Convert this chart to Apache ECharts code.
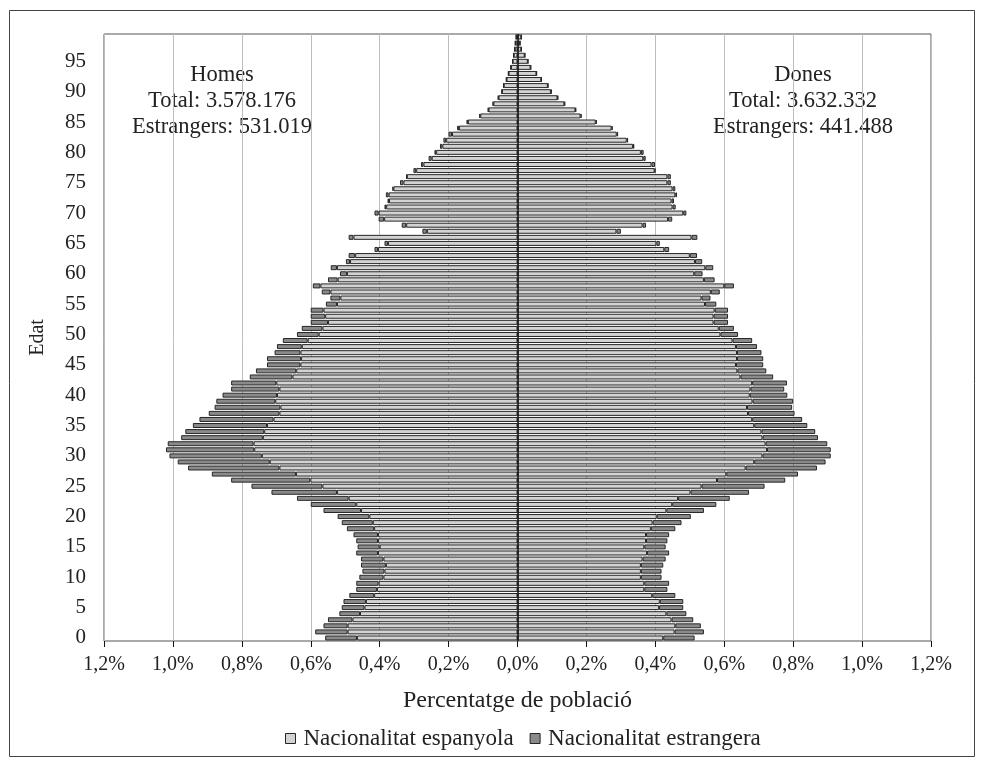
<html>
<head>
    <meta charset="utf-8">
    <script src="https://cdn.jsdelivr.net/npm/echarts@6/dist/echarts.min.js"></script>
    <style>
        body { margin: 0; background: #fff; }
        #chart { width: 984px; height: 765px; }
    </style>
</head>
<body>
    <div id="chart"></div>
    <script>
        // ages 0..99 (bottom to top)
        var ages = [];
        for (var a = 0; a < 100; a++) ages.push(String(a));

        // % of population, index = age
        var homesEspanyola = [
            .466, .493, .493, .479, .457, .444, .440, .416, .408, .403,
            .389, .386, .382, .389, .405, .400, .405, .405, .416, .420,
            .430, .454, .468, .490, .524, .566, .601, .643, .691, .719,
            .742, .764, .766, .739, .735, .727, .708, .691, .688, .703,
            .698, .691, .700, .653, .642, .630, .628, .630, .626, .609,
            .577, .566, .550, .558, .563, .524, .514, .543, .572, .522,
            .495, .524, .486, .471, .405, .376, .476, .263, .323, .387,
            .403, .381, .373, .374, .360, .331, .321, .294, .273, .249,
            .236, .218, .207, .190, .170, .144, .108, .084, .070, .055,
            .045, .040, .032, .026, .019, .014, .011, .008, .006, .004
        ];
        var homesEstrangera = [
            .092, .094, .070, .071, .060, .066, .065, .072, .060, .065,
            .070, .064, .072, .065, .063, .064, .063, .071, .079, .090,
            .092, .109, .132, .150, .190, .206, .230, .244, .265, .267,
            .268, .256, .249, .237, .229, .215, .215, .205, .191, .171,
            .158, .140, .131, .124, .117, .097, .099, .075, .072, .072,
            .063, .060, .050, .042, .037, .032, .029, .025, .022, .028,
            .020, .018, .012, .019, .010, .010, .014, .013, .013, .016,
            .012, .005, .004, .008, .003, .010, .002, .008, .007, .009,
            .005, .007, .008, .010, .005, .004, .003, .002, .002, .002,
            .001, .001, .001, .001, .001, .001, .001, .001, .001, .000
        ];
        var donesEspanyola = [
            .423, .456, .458, .447, .432, .411, .413, .391, .368, .368,
            .358, .358, .358, .363, .376, .368, .373, .373, .387, .392,
            .404, .432, .449, .466, .502, .534, .579, .606, .662, .687,
            .711, .724, .720, .711, .708, .687, .681, .669, .666, .682,
            .674, .676, .681, .647, .638, .634, .637, .637, .634, .624,
            .589, .584, .569, .569, .572, .544, .534, .561, .600, .541,
            .513, .545, .515, .500, .426, .403, .505, .287, .363, .437,
            .481, .450, .447, .458, .450, .435, .435, .398, .389, .365,
            .358, .335, .317, .288, .273, .227, .183, .168, .136, .116,
            .097, .088, .069, .055, .038, .030, .021, .011, .007, .011
        ];
        var donesEstrangera = [
            .091, .085, .074, .063, .058, .070, .068, .067, .067, .072,
            .060, .060, .065, .067, .064, .062, .062, .067, .071, .084,
            .099, .109, .128, .150, .170, .183, .198, .208, .207, .207,
            .198, .185, .179, .161, .156, .154, .145, .135, .131, .118,
            .109, .098, .101, .095, .084, .079, .076, .071, .061, .057,
            .051, .044, .042, .042, .039, .033, .026, .026, .028, .031,
            .024, .023, .021, .021, .014, .010, .017, .013, .010, .012,
            .009, .009, .007, .005, .008, .010, .010, .002, .010, .007,
            .008, .004, .004, .004, .003, .003, .003, .002, .002, .002,
            .002, .001, .001, .001, .001, .001, .001, .001, .001, .001
        ];

        var serif = '"Liberation Serif", "DejaVu Serif", serif';
        var lightGrey = '#d3d3d3';
        var darkGrey = '#8a8a8a';
        var edge = '#262626';

        function neg(arr) {
            return arr.map(function (v) { return -v; });
        }

        // one stack for everything: negatives (men) and positives (women) pile up separately
        function barSeries(name, data, color) {
            return {
                name: name,
                type: 'bar',
                stack: 'piramide',
                data: data,
                barCategoryGap: '18%',
                itemStyle: { color: color, borderColor: edge, borderWidth: 1 },
                emphasis: { disabled: true }
            };
        }

        var series = [
            barSeries('Nacionalitat espanyola', neg(homesEspanyola), lightGrey),
            barSeries('Nacionalitat estrangera', neg(homesEstrangera), darkGrey),
            barSeries('Nacionalitat espanyola', donesEspanyola, lightGrey),
            barSeries('Nacionalitat estrangera', donesEstrangera, darkGrey)
        ];
        series[0].markLine = {
            silent: true,
            symbol: 'none',
            label: { show: false },
            lineStyle: { color: '#111', width: 1.5, type: 'solid' },
            data: [{ xAxis: 0 }]
        };

        var option = {
            animation: false,
            grid: {
                left: 104, right: 53, top: 34, bottom: 124,
                show: true, borderColor: '#555', borderWidth: 1
            },
            legend: {
                data: ['Nacionalitat espanyola', 'Nacionalitat estrangera'],
                left: 280,
                top: 722,
                icon: 'rect',
                itemWidth: 10,
                itemHeight: 10,
                itemGap: 16,
                itemStyle: { borderColor: edge, borderWidth: 1 },
                textStyle: { fontFamily: serif, fontSize: 23, color: '#222', padding: [0, 0, 0, 3] }
            },
            xAxis: {
                type: 'value',
                min: -1.2,
                max: 1.2,
                interval: 0.2,
                name: 'Percentatge de població',
                nameLocation: 'middle',
                nameGap: 48,
                nameTextStyle: { fontFamily: serif, fontSize: 24, color: '#222' },
                axisLine: { lineStyle: { color: '#111', width: 1.5 } },
                axisTick: { show: true, length: 6, lineStyle: { color: '#111' } },
                axisLabel: {
                    fontFamily: serif, fontSize: 20, color: '#222', margin: 14,
                    formatter: function (v) {
                        return Math.abs(v).toFixed(1).replace('.', ',') + '%';
                    }
                },
                splitLine: { lineStyle: { color: '#bdbdbd', width: 1 } }
            },
            yAxis: {
                type: 'category',
                data: ages,
                name: 'Edat',
                nameLocation: 'middle',
                nameRotate: 90,
                nameGap: 56,
                nameTextStyle: { fontFamily: serif, fontSize: 20, color: '#222' },
                axisLine: { show: false },
                axisTick: { show: false },
                axisLabel: {
                    interval: 4,
                    fontFamily: serif, fontSize: 21, color: '#222', margin: 18
                },
                splitLine: { show: false }
            },
            graphic: [
                {
                    type: 'rect',
                    silent: true,
                    shape: { x: 9.5, y: 10.5, width: 965, height: 746 },
                    style: { fill: 'none', stroke: '#444', lineWidth: 1 }
                },
                {
                    type: 'text',
                    silent: true,
                    x: 222, y: 62,
                    style: {
                        text: 'Homes\nTotal: 3.578.176\nEstrangers: 531.019',
                        fontFamily: serif, fontSize: 22.5, lineHeight: 26,
                        fill: '#222', align: 'center', verticalAlign: 'top'
                    }
                },
                {
                    type: 'text',
                    silent: true,
                    x: 803, y: 62,
                    style: {
                        text: 'Dones\nTotal: 3.632.332\nEstrangers: 441.488',
                        fontFamily: serif, fontSize: 22.5, lineHeight: 26,
                        fill: '#222', align: 'center', verticalAlign: 'top'
                    }
                }
            ],
            series: series
        };

        var myChart = echarts.init(document.getElementById('chart'));
        myChart.setOption(option);
    </script>
</body>
</html>
